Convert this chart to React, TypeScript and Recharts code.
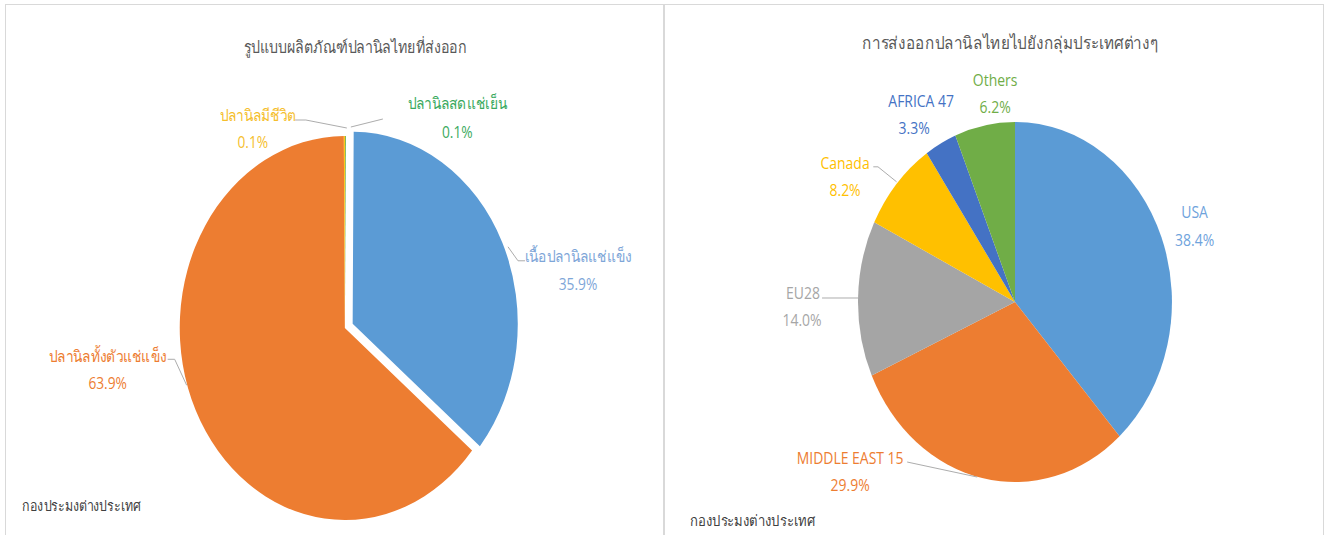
import { PieChart, Pie, Cell } from 'recharts';

// left chart: export product forms
const productNames = ['ปลานิลสดแช่เย็น', 'เนื้อปลานิลแช่แข็ง', 'ปลานิลทั้งตัวแช่แข็ง', 'ปลานิลมีชีวิต'];
const productShares = [0.1, 35.9, 63.9, 0.1];
const productColors = ['#70ad47', '#5b9bd5', '#ed7d31', '#ffc000'];
const productLabelColors = ['#3aaa5e', '#7ea6d8', '#ed7d31', '#f5be2c'];

// right chart: destination markets
const marketNames = ['USA', 'MIDDLE EAST 15', 'EU28', 'Canada', 'AFRICA 47', 'Others'];
const marketShares = [38.4, 29.9, 14.0, 8.2, 3.3, 6.2];
const marketColors = ['#5b9bd5', '#ed7d31', '#a5a5a5', '#ffc000', '#4472c4', '#70ad47'];
const marketLabelColors = ['#6fa3dc', '#ed7d31', '#a6a6a6', '#ffc000', '#4472c4', '#70ad47'];

const productData = productNames.map((name, i) => ({ name, value: productShares[i] }));
const marketData = marketNames.map((name, i) => ({ name, value: marketShares[i] }));

const FONT = "'Open Sans', 'Noto Sans', sans-serif";
const RAD = Math.PI / 180;

type Pt = [number, number];
type LabelPos = { name: Pt; pct: Pt; line?: Pt[] };

// label offsets (screen px) from the outer point of each slice
const productLabelPos: LabelPos[] = [
  { name: [112, -33], pct: [112, -4], line: [[5.5, -9], [37.5, -17]] },
  { name: [83.5, 9], pct: [83.5, 37], line: [[13.5, 0], [23.5, 14], [30.5, 14]] },
  { name: [-88, -55], pct: [-88, -28], line: [[-9, -25], [-21, -51], [-28, -51]] },
  { name: [-86.5, -21], pct: [-91.5, 6], line: [[2.5, -8], [-38.5, -16], [-49.5, -16]] },
];
const marketLabelPos: LabelPos[] = [
  { name: [33, -26], pct: [33, 2] },
  { name: [-132, -20], pct: [-132, 7], line: [[-5, -1], [-75, -16]] },
  { name: [-55, -5.5], pct: [-56, 21.5], line: [[0, -0.6], [-36, -0.6]] },
  { name: [-51.5, -21], pct: [-51.5, 6], line: [[0, -2], [-18.6, -17], [-23.3, -17]] },
  { name: [-19.5, -42.5], pct: [-26.5, -15.5] },
  { name: [10.5, -45.5], pct: [10.5, -18.5] },
];

type Cfg = { cx: number; cy: number; r: number; s: number; pos: LabelPos[]; colors: string[] };

const makeLabel = (cfg: Cfg) => (props: any) => {
  const { midAngle, index, name, value } = props;
  const px = cfg.cx + cfg.r * Math.cos(midAngle * RAD);
  const py = cfg.cy - cfg.r * Math.sin(midAngle * RAD);
  const p = cfg.pos[index];
  const X = (d: number) => px + d / cfg.s;
  const Y = (d: number) => py + d;
  const color = cfg.colors[index];
  return (
    <g key={`lbl-${index}`}>
      {p.line && (
        <polyline
          points={p.line.map(([dx, dy]) => `${X(dx)},${Y(dy)}`).join(' ')}
          fill="none"
          stroke="#a6a6a6"
          strokeWidth={1}
        />
      )}
      <text x={X(p.name[0])} y={Y(p.name[1])} textAnchor="middle" dominantBaseline="central"
        fill={color} fontSize={16} fontFamily={FONT}>
        {name}
      </text>
      <text x={X(p.pct[0])} y={Y(p.pct[1])} textAnchor="middle" dominantBaseline="central"
        fill={color} fontSize={16} fontFamily={FONT}>
        {`${Number(value).toFixed(1)}%`}
      </text>
    </g>
  );
};

const LEFT = { x0: 0, s: 0.86, w: 772, cx: 401, cy: 328, r: 192 };
const RIGHT = { x0: 664, s: 0.872, w: 760, cx: 402.5, cy: 302, r: 180 };

// exploded slice: the frozen fillet
const EXPLODE_INDEX = 1;
const EXPLODE_DIST = 10;
const explodeMid = (() => {
  const total = productShares.reduce((a, b) => a + b, 0);
  const before = productShares.slice(0, EXPLODE_INDEX).reduce((a, b) => a + b, 0);
  return 90 - ((before + productShares[EXPLODE_INDEX] / 2) / total) * 360;
})();
const exDx = EXPLODE_DIST * Math.cos(explodeMid * RAD);
const exDy = -EXPLODE_DIST * Math.sin(explodeMid * RAD);

function Panel(props: { x0: number; s: number; w: number; children: any }) {
  return (
    <div
      style={{
        position: 'absolute', left: props.x0, top: 0, width: props.w, height: 535,
        transform: `scaleX(${props.s})`, transformOrigin: '0 0', fontFamily: FONT,
      }}
    >
      {props.children}
    </div>
  );
}

const titleStyle = (cx: number, top: number, size: number): any => ({
  position: 'absolute', left: cx - 300, width: 600, top, textAlign: 'center',
  fontSize: size, color: '#595959', lineHeight: '24px', whiteSpace: 'nowrap',
});
const footStyle = (left: number, top: number, size: number): any => ({
  position: 'absolute', left, top, fontSize: size, color: '#404040', lineHeight: '20px', whiteSpace: 'nowrap',
});

export default function App() {
  const leftCfg: Cfg = { cx: LEFT.cx, cy: LEFT.cy, r: LEFT.r, s: LEFT.s, pos: productLabelPos, colors: productLabelColors };
  const rightCfg: Cfg = { cx: RIGHT.cx, cy: RIGHT.cy, r: RIGHT.r, s: RIGHT.s, pos: marketLabelPos, colors: marketLabelColors };
  return (
    <div style={{ position: 'absolute', left: 0, top: 0, width: 1327, height: 535, overflow: 'hidden', background: '#fff' }}>
      <div style={{ position: 'absolute', left: 5, top: 4, width: 1317, height: 600, border: '1px solid #d9d9d9' }} />
      <div style={{ position: 'absolute', left: 663, top: 4, width: 2, height: 600, background: '#d9d9d9' }} />

      <Panel x0={LEFT.x0} s={LEFT.s} w={LEFT.w}>
        <div style={titleStyle(412.8, 35, 16.5)}>รูปแบบผลิตภัณฑ์ปลานิลไทยที่ส่งออก</div>
        <PieChart width={LEFT.w} height={535} margin={{ top: 0, right: 0, bottom: 0, left: 0 }}>
          <Pie
            data={productData}
            dataKey="value"
            nameKey="name"
            cx={LEFT.cx}
            cy={LEFT.cy}
            outerRadius={LEFT.r}
            startAngle={90}
            endAngle={-270}
            stroke="none"
            labelLine={false}
            label={makeLabel(leftCfg)}
            isAnimationActive={false}
          >
            {productData.map((d, i) => (
              <Cell key={`p-${i}`} fill={i === EXPLODE_INDEX ? 'transparent' : productColors[i]} />
            ))}
          </Pie>
          <Pie
            data={productData}
            dataKey="value"
            nameKey="name"
            cx={LEFT.cx + exDx}
            cy={LEFT.cy + exDy}
            outerRadius={LEFT.r}
            startAngle={90}
            endAngle={-270}
            stroke="none"
            labelLine={false}
            label={false}
            isAnimationActive={false}
          >
            {productData.map((d, i) => (
              <Cell key={`e-${i}`} fill={i === EXPLODE_INDEX ? productColors[i] : 'transparent'} />
            ))}
          </Pie>
        </PieChart>
        <div style={footStyle(25.6, 496, 14.4)}>กองประมงต่างประเทศ</div>
      </Panel>

      <Panel x0={RIGHT.x0} s={RIGHT.s} w={RIGHT.w}>
        <div style={titleStyle(396.8, 30, 17.5)}>การส่งออกปลานิลไทยไปยังกลุ่มประเทศต่างๆ</div>
        <PieChart width={RIGHT.w} height={535} margin={{ top: 0, right: 0, bottom: 0, left: 0 }}>
          <Pie
            data={marketData}
            dataKey="value"
            nameKey="name"
            cx={RIGHT.cx}
            cy={RIGHT.cy}
            outerRadius={RIGHT.r}
            startAngle={90}
            endAngle={-270}
            stroke="none"
            labelLine={false}
            label={makeLabel(rightCfg)}
            isAnimationActive={false}
          >
            {marketData.map((d, i) => (
              <Cell key={`m-${i}`} fill={marketColors[i]} />
            ))}
          </Pie>
        </PieChart>
        <div style={footStyle(29.8, 510, 15)}>กองประมงต่างประเทศ</div>
      </Panel>
    </div>
  );
}
